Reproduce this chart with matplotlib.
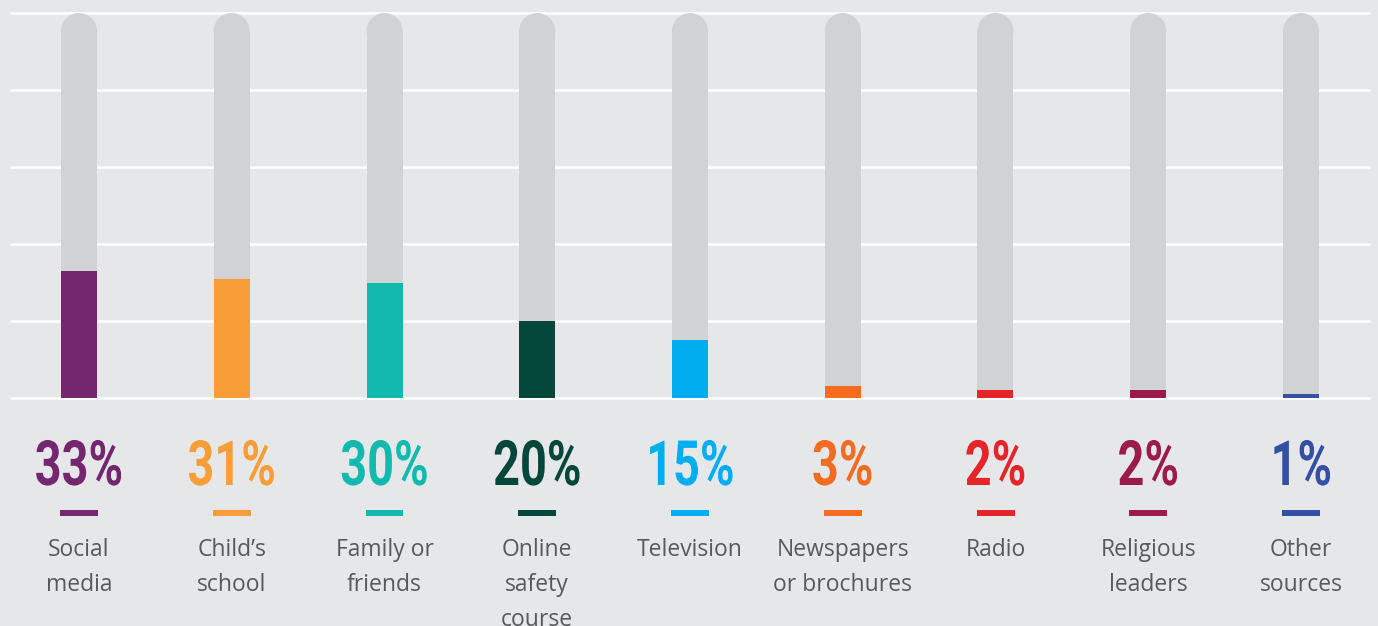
import numpy as np
import matplotlib
matplotlib.use("Agg")
import matplotlib.pyplot as plt
from matplotlib.patches import Ellipse
from matplotlib import patheffects
from matplotlib.transforms import Affine2D

# Where parents get online-safety information (% of respondents)
sources = ["Social\nmedia", "Child’s\nschool", "Family or\nfriends", "Online\nsafety\ncourse",
           "Television", "Newspapers\nor brochures", "Radio", "Religious\nleaders", "Other\nsources"]
shares = [33, 31, 30, 20, 15, 3, 2, 2, 1]
colors = ["#74266F", "#F89D38", "#12B9AF", "#03463A", "#00AEEF",
          "#F36C21", "#E4252A", "#9B1B4B", "#3450A3"]
track = 100
grid_vals = [0, 20, 40, 60, 80, 100]

BG = "#E6E7E9"
TRACK = "#D1D2D4"
TEXT = "#58595B"


class Condensed(patheffects.AbstractPathEffect):
    """Squeeze the glyph outlines horizontally about their own centre."""

    def __init__(self, sx=0.75):
        super().__init__()
        self.sx = sx

    def draw_path(self, renderer, gc, tpath, affine, rgbFace=None):
        ext = affine.transform_path(tpath).get_extents()
        cx = 0.5 * (ext.x0 + ext.x1)
        squeeze = Affine2D().translate(-cx, 0).scale(self.sx, 1).translate(cx, 0)
        renderer.draw_path(gc, tpath, affine + squeeze, rgbFace)


W, H, DPI = 1378, 626, 100
fig = plt.figure(figsize=(W / DPI, H / DPI), dpi=DPI, facecolor=BG)
ax = fig.add_axes([0, 0, 1, 1])
ax.set_facecolor(BG)

# pixel layout: baseline at y=398px, 100% at y=13px, first bar at x=79px, pitch 152.75px
px_per_unit_y = (398 - 13) / 100
px_per_unit_x = 152.75
x0 = 79
ax.set_xlim(-x0 / px_per_unit_x, (len(sources) - 1) + (W - 1301) / px_per_unit_x)
ax.set_ylim(-(H - 398) / px_per_unit_y, 100 + 13 / px_per_unit_y)
ax.axis("off")


def ypx(p):
    """Convert a pixel row (from the top) into data units."""
    return (398 - p) / px_per_unit_y


x = np.arange(len(sources))
bw = 36 / px_per_unit_x
cap_h = 36 / px_per_unit_y

# white gridlines
ax.hlines(grid_vals, (10 - x0) / px_per_unit_x, (1370 - x0) / px_per_unit_x,
          color="white", lw=1.8, zorder=1)

# rounded grey tracks
ax.bar(x, track - cap_h / 2, width=bw, color=TRACK, zorder=2)
for xi in x:
    ax.add_patch(Ellipse((xi, track - cap_h / 2), bw, cap_h, color=TRACK, zorder=2, lw=0))

# value bars
ax.bar(x, shares, width=bw, color=colors, zorder=3)

for xi, v, c, lab in zip(x, shares, colors, sources):
    ax.text(xi, ypx(485), f"{v}%", ha="center", va="baseline", color=c,
            fontsize=45, fontweight="bold", family=["Roboto", "DejaVu Sans"],
            path_effects=[Condensed(0.75)])
    ax.plot([xi - 19 / px_per_unit_x, xi + 19 / px_per_unit_x], [ypx(513)] * 2,
            color=c, lw=4.3, solid_capstyle="butt", zorder=3)
    ax.text(xi, ypx(538), lab, ha="center", va="top", color=TEXT,
            fontsize=16.5, family="Open Sans", linespacing=1.6)

fig.savefig("out.png", dpi=DPI, facecolor=BG)
